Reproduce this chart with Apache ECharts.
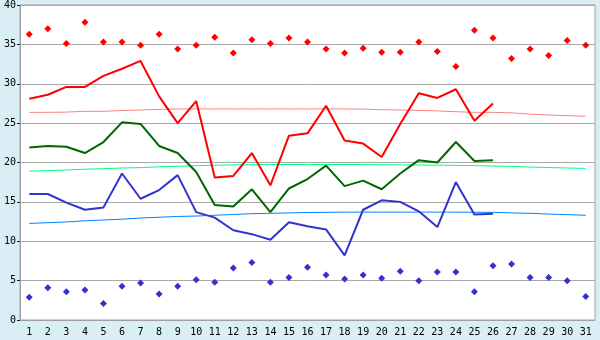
<!DOCTYPE html>
<html>
<head>
<meta charset="utf-8">
<script src="https://cdn.jsdelivr.net/npm/echarts@6/dist/echarts.min.js"></script>
<style>
  html, body { margin: 0; padding: 0; background: #d9eef5; }
  #chart { width: 600px; height: 340px; }
</style>
</head>
<body>
<div id="chart"></div>
<script>
// categories: days 1..31
const days = ['1','2','3','4','5','6','7','8','9','10','11','12','13','14','15','16','17','18','19','20','21','22','23','24','25','26','27','28','29','30','31']

// upper scatter (red diamonds)
const redPoints = [36.3, 37.0, 35.1, 37.8, 35.3, 35.3, 34.9, 36.3, 34.4, 34.9, 35.9, 33.9, 35.6, 35.1, 35.8, 35.3, 34.4, 33.9, 34.5, 34.0, 34.0, 35.3, 34.1, 32.2, 36.8, 35.8, 33.2, 34.4, 33.6, 35.5, 34.9]
// lower scatter (blue diamonds)
const bluePoints = [2.9, 4.1, 3.6, 3.8, 2.1, 4.3, 4.7, 3.3, 4.3, 5.1, 4.8, 6.6, 7.3, 4.8, 5.4, 6.7, 5.7, 5.2, 5.7, 5.3, 6.2, 5.0, 6.1, 6.1, 3.6, 6.9, 7.1, 5.4, 5.4, 5.0, 3.0]

// main lines (days 1..26)
const redLine = [28.1, 28.6, 29.6, 29.6, 31.0, 31.9, 32.9, 28.4, 25.0, 27.8, 18.1, 18.3, 21.2, 17.1, 23.4, 23.7, 27.2, 22.8, 22.4, 20.7, 24.9, 28.8, 28.2, 29.3, 25.3, 27.5]
const greenLine = [21.9, 22.1, 22.0, 21.2, 22.6, 25.1, 24.9, 22.1, 21.2, 18.8, 14.6, 14.4, 16.6, 13.7, 16.7, 17.9, 19.6, 17.0, 17.7, 16.6, 18.6, 20.3, 20.0, 22.6, 20.2, 20.3]
const blueLine = [16.0, 16.0, 14.9, 14.0, 14.3, 18.6, 15.4, 16.5, 18.4, 13.7, 13.0, 11.4, 10.9, 10.2, 12.4, 11.9, 11.5, 8.2, 14.0, 15.2, 15.0, 13.8, 11.8, 17.5, 13.4, 13.5]

// trend lines
const redTrend = [26.37, 26.37, 26.4, 26.5, 26.5, 26.6, 26.67, 26.75, 26.8, 26.8, 26.8, 26.8, 26.8, 26.8, 26.8, 26.8, 26.8, 26.8, 26.78, 26.7, 26.67, 26.62, 26.55, 26.45, 26.37, 26.37, 26.3, 26.15, 26.03, 25.95, 25.87]
const greenTrend = [18.9, 18.97, 19.05, 19.15, 19.22, 19.3, 19.35, 19.45, 19.52, 19.6, 19.66, 19.7, 19.72, 19.74, 19.75, 19.75, 19.75, 19.75, 19.74, 19.72, 19.7, 19.68, 19.66, 19.64, 19.6, 19.55, 19.5, 19.42, 19.36, 19.3, 19.25]
const blueTrend = [12.27, 12.35, 12.45, 12.6, 12.7, 12.8, 12.95, 13.05, 13.15, 13.2, 13.3, 13.4, 13.5, 13.55, 13.6, 13.65, 13.67, 13.7, 13.7, 13.7, 13.7, 13.7, 13.7, 13.7, 13.68, 13.67, 13.6, 13.55, 13.45, 13.38, 13.3]

const chart = echarts.init(document.getElementById('chart'))

function lineSeries(data, color, width, z) {
  return {
    type: 'line',
    data: data,
    symbol: 'none',
    lineStyle: { color: color, width: width },
    itemStyle: { color: color },
    animation: false,
    z: z
  }
}

function pointSeries(data, color) {
  return {
    type: 'scatter',
    data: data,
    symbol: 'diamond',
    symbolSize: 7,
    itemStyle: { color: color, opacity: 1 },
    animation: false,
    z: 5
  }
}

chart.setOption({
  backgroundColor: '#d9eef5',
  animation: false,
  grid: {
    left: 20, right: 5, top: 5, bottom: 20,
    show: true,
    backgroundColor: '#ffffff',
    borderColor: '#a0a0a0',
    borderWidth: 1
  },
  xAxis: {
    type: 'category',
    data: days,
    boundaryGap: true,
    axisLine: { lineStyle: { color: '#a0a0a0' } },
    axisTick: { alignWithLabel: true, length: 4, lineStyle: { color: '#202020' } },
    axisLabel: { color: '#000', fontSize: 10, fontFamily: 'DejaVu Sans Mono', margin: 7, interval: 0 },
    splitLine: { show: false }
  },
  yAxis: {
    type: 'value',
    min: 0, max: 40, interval: 5,
    axisLine: { show: true, lineStyle: { color: '#a0a0a0' } },
    axisTick: { show: true, length: 3, lineStyle: { color: '#202020' } },
    axisLabel: { color: '#000', fontSize: 10, fontFamily: 'DejaVu Sans Mono', margin: 4 },
    splitLine: { lineStyle: { color: '#a8a8a8', width: 1 } }
  },
  series: [
    lineSeries(redTrend, '#ff8080', 1, 2),
    lineSeries(greenTrend, '#00ff80', 1, 2),
    lineSeries(blueTrend, '#0080ff', 1, 2),
    lineSeries(redLine, '#ff0000', 2, 3),
    lineSeries(greenLine, '#006600', 2, 3),
    lineSeries(blueLine, '#3333cc', 2, 3),
    pointSeries(redPoints, '#ff0000'),
    pointSeries(bluePoints, '#3333cc')
  ]
})
</script>
</body>
</html>
